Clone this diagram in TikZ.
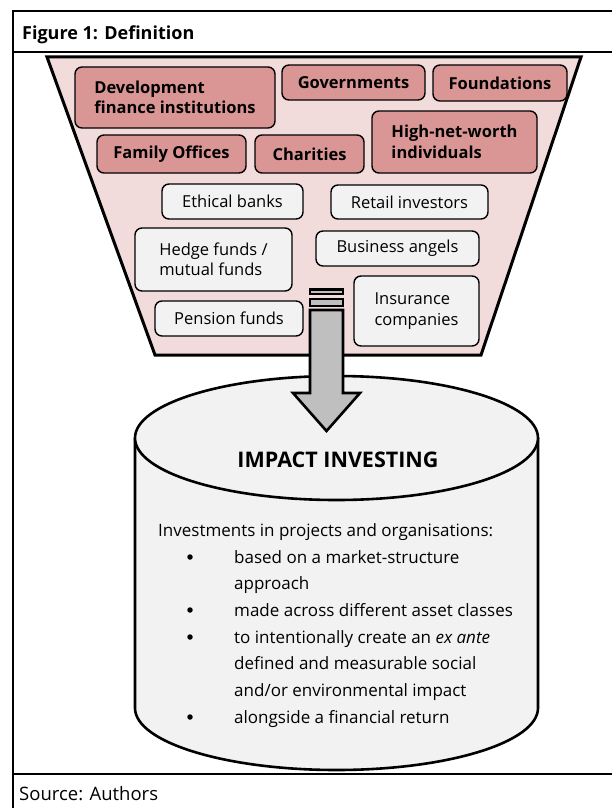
\documentclass[tikz,border=0pt]{standalone}
\usepackage{fontspec}
\setmainfont{Open Sans}
\definecolor{pinkfill}{HTML}{D99694}
\definecolor{funnelfill}{HTML}{F2DCDB}
\definecolor{boxgray}{HTML}{F2F2F2}
\definecolor{arrowgray}{HTML}{BFBFBF}
\begin{document}
\begin{tikzpicture}[x=1pt,y=-1pt,
  pinkbox/.style={draw=black,line width=1.4pt,rounded corners=7pt,fill=pinkfill,
    font=\bfseries\fontsize{16.5}{20.5}\selectfont,align=left,inner sep=0pt},
  graybox/.style={draw=black,line width=1.4pt,rounded corners=7pt,fill=boxgray,
    font=\fontsize{16.5}{20.5}\selectfont,align=left,inner sep=0pt},
  bodytext/.style={anchor=base west,inner sep=0pt,font=\fontsize{17}{20}\selectfont},
  bulletdot/.style={circle,fill=black,inner sep=0pt,minimum size=5.5pt},
  thickline/.style={line width=2.6pt},
  framestyle/.style={line width=2pt}
]
\useasboundingbox (0,0) rectangle (612,808);

% frame
\draw[framestyle] (13,808) -- (13,11) -- (616,11);
\draw[framestyle] (13,52) -- (616,52);
\draw[framestyle] (13,774) -- (616,774);
\node[anchor=base west,inner sep=0pt,font=\bfseries\fontsize{18}{21}\selectfont] (title) at (22,40) {Figure 1: Definition};
\node[anchor=base west,inner sep=0pt,font=\fontsize{18.5}{21}\selectfont] (source) at (19,800) {Source: Authors};

% funnel
\filldraw[fill=funnelfill,draw=black,line width=3pt,line join=miter] (47,57) -- (581,57) -- (481,355) -- (155,355) -- cycle;

% pink boxes
\node[pinkbox,minimum width=200pt,minimum height=61pt] (dfi) at (175,97.5) {Development\\finance institutions};
\node[pinkbox,minimum width=143pt,minimum height=35pt] (gov) at (353.5,82.5) {Governments};
\node[pinkbox,minimum width=134pt,minimum height=36pt] (found) at (500,83) {Foundations};
\node[pinkbox,minimum width=149pt,minimum height=38pt] (family) at (171.5,154) {Family Offices};
\node[pinkbox,minimum width=109pt,minimum height=38pt] (char) at (309.5,154) {Charities};
\node[pinkbox,minimum width=165pt,minimum height=62pt] (hnw) at (454.5,142) {High-net-worth\\individuals};

% gray boxes
\node[graybox,minimum width=141pt,minimum height=35pt] (ethical) at (232.5,201.5) {Ethical banks};
\node[graybox,minimum width=157pt,minimum height=34pt] (retail) at (409.5,202) {Retail investors};
\node[graybox,minimum width=157pt,minimum height=63pt] (hedge) at (213.5,259.5) {Hedge funds /\\mutual funds};
\node[graybox,minimum width=163pt,minimum height=35pt] (angels) at (397.5,248.5) {Business angels};
\node[graybox,minimum width=148pt,minimum height=35pt] (pension) at (229,318.5) {Pension funds};
\node[graybox,minimum width=125pt,minimum height=70pt] (insur) at (416.5,311) {Insurance\\companies};

% cylinder
\fill[boxgray] (135,438) -- (135,708) .. controls (135,742.2) and (225.2,770) .. (336.5,770)
  .. controls (447.8,770) and (538,742.2) .. (538,708) -- (538,438) -- cycle;
\draw[thickline] (135,438) -- (135,708) .. controls (135,742.2) and (225.2,770) .. (336.5,770)
  .. controls (447.8,770) and (538,742.2) .. (538,708) -- (538,438);
\filldraw[fill=boxgray,draw=black,thickline] (336.5,438) ellipse [x radius=201.5pt,y radius=62pt];

% arrow
\filldraw[fill=arrowgray,draw=black,thickline,line join=miter] (310,310) -- (310,393) -- (293,393) -- (326.5,431) -- (360,393) -- (343,393) -- (343,310) -- cycle;
\filldraw[fill=arrowgray,draw=black,thickline] (310,289.5) rectangle (343,294);
\filldraw[fill=arrowgray,draw=black,thickline] (310,299) rectangle (343,306);

% cylinder text
\node[anchor=base,inner sep=0pt,font=\bfseries\fontsize{21.5}{25}\selectfont] (impact) at (338,467) {IMPACT INVESTING};
\node[bodytext] (intro) at (158,536) {Investments in projects and organisations:};
\node[bulletdot] (d1) at (190,557) {};
\node[bodytext] (t1a) at (234,563) {based on a market-structure};
\node[bodytext] (t1b) at (234,589) {approach};
\node[bulletdot] (d2) at (190,610) {};
\node[bodytext] (t2) at (234,616) {made across different asset classes};
\node[bulletdot] (d3) at (190,637) {};
\node[bodytext] (t3a) at (234,643) {to intentionally create an \textit{ex ante}};
\node[bodytext] (t3b) at (234,669) {defined and measurable social};
\node[bodytext] (t3c) at (234,696) {and/or environmental impact};
\node[bulletdot] (d4) at (190,717) {};
\node[bodytext] (t4) at (234,723) {alongside a financial return};
\end{tikzpicture}
\end{document}
